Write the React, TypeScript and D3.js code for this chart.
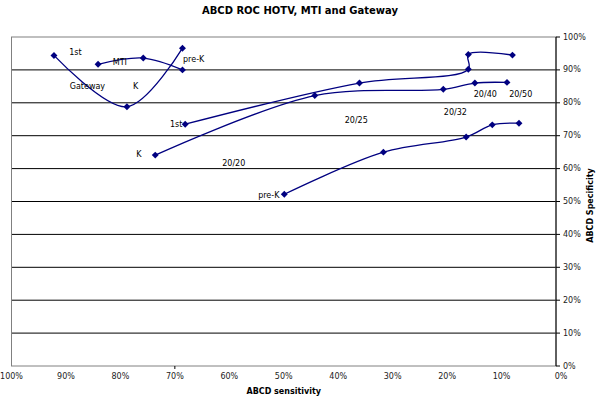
import React from "react";
import * as d3 from "d3";

// sensitivity (x, %) / specificity (y, %)
const gatewaySens = [92.2, 78.8, 68.6];
const gatewaySpec = [94.4, 78.8, 96.6];

const mtiSens = [84.1, 75.8, 68.6];
const mtiSpec = [91.7, 93.6, 90.0];

const hotv1stSens = [68.1, 36.1, 16.1, 16.1, 8.0];
const hotv1stSpec = [73.5, 86.0, 90.2, 94.7, 94.5];

const hotvKSens = [73.6, 44.3, 20.7, 14.9, 9.0];
const hotvKSpec = [64.1, 82.2, 84.1, 86.0, 86.2];

const hotvPreKSens = [49.9, 31.7, 16.5, 11.7, 6.8];
const hotvPreKSpec = [52.2, 65.0, 69.6, 73.3, 73.8];

const tickValues = [0, 10, 20, 30, 40, 50, 60, 70, 80, 90, 100];

// text annotations placed in data units (sens, spec)
const noteText = ["1st", "MTI", "pre-K", "Gateway", "K", "1st", "K", "20/20", "20/25", "20/32", "20/40", "20/50", "pre-K"];
const noteSens = [89.4, 81.4, 68.5, 89.3, 77.7, 70.9, 77.1, 61.3, 38.8, 20.6, 15.1, 8.6, 54.7];
const noteSpec = [95.4, 92.4, 93.3, 85.1, 85.1, 73.3, 64.4, 61.7, 74.5, 77.2, 82.4, 82.4, 51.7];

const W = 600;
const H = 398;
const plot = { left: 11.5, right: 556, top: 37, bottom: 366 };
const navy = "#000080";
const font = "'DejaVu Sans', Verdana, sans-serif";

const x = d3.scaleLinear().domain([100, 0]).range([plot.left, plot.right]);
const y = d3.scaleLinear().domain([0, 100]).range([plot.bottom, plot.top]);

const series = [
  { sens: gatewaySens, spec: gatewaySpec },
  { sens: mtiSens, spec: mtiSpec },
  { sens: hotv1stSens, spec: hotv1stSpec },
  { sens: hotvKSens, spec: hotvKSpec },
  { sens: hotvPreKSens, spec: hotvPreKSpec },
];

const line = d3
  .line<[number, number]>()
  .x(d => x(d[0]))
  .y(d => y(d[1]))
  .curve(d3.curveCatmullRom.alpha(0.5));

// square turned 45deg, like excel's diamond marker
const diamond = d3.symbol().type(d3.symbolSquare).size(24)();

export default function App() {
  return (
    <svg
      width={W}
      height={H}
      style={{ position: "absolute", left: 0, top: 0, background: "#fff" }}
      fontFamily={font}
    >
      <text x={W / 2} y={14} textAnchor="middle" fontSize={10} fontWeight="bold">
        ABCD ROC HOTV, MTI and Gateway
      </text>

      {/* gridlines */}
      {tickValues.filter(v => v > 0 && v < 100).map(v => (
        <line key={v} x1={plot.left} x2={plot.right} y1={y(v)} y2={y(v)} stroke="#000" strokeWidth={1} />
      ))}

      {/* plot border */}
      <rect
        x={plot.left}
        y={plot.top}
        width={plot.right - plot.left}
        height={plot.bottom - plot.top}
        fill="none"
        stroke="#808080"
        strokeWidth={1}
      />

      {/* right value axis */}
      <line x1={plot.right} x2={plot.right} y1={plot.top} y2={plot.bottom} stroke="#000" />
      {tickValues.map(v => (
        <g key={v}>
          <line x1={plot.right} x2={plot.right + 4} y1={y(v)} y2={y(v)} stroke="#000" />
          <text x={plot.right + 7} y={y(v)} dominantBaseline="middle" fontSize={8} fill="#222">
            {v}%
          </text>
        </g>
      ))}

      {/* bottom category axis */}
      <line x1={x(70)} x2={x(70)} y1={plot.bottom} y2={plot.bottom + 3} stroke="#000" />
      {tickValues.map(v => (
        <text
          key={v}
          x={x(v) + (v === 0 ? 5 : 0)}
          y={plot.bottom + 13}
          textAnchor="middle"
          fontSize={8}
          fill="#222"
        >
          {v}%
        </text>
      ))}
      <text x={(plot.left + plot.right) / 2} y={394} textAnchor="middle" fontSize={8} fontWeight="bold">
        ABCD sensitivity
      </text>
      <text
        transform={`translate(593, ${(plot.top + plot.bottom) / 2 + 4}) rotate(-90)`}
        textAnchor="middle"
        fontSize={8}
        fontWeight="bold"
      >
        ABCD Specificity
      </text>

      {/* series */}
      {series.map((s, i) => {
        const pts = s.sens.map((v, j) => [v, s.spec[j]] as [number, number]);
        return (
          <g key={i}>
            <path d={line(pts) || ""} fill="none" stroke={navy} strokeWidth={1.3} />
            {pts.map((p, j) => (
              <path
                key={j}
                d={diamond || ""}
                transform={`translate(${x(p[0])},${y(p[1])}) rotate(45)`}
                fill={navy}
              />
            ))}
          </g>
        );
      })}

      {/* annotations */}
      {noteText.map((t, i) => (
        <text key={i} x={x(noteSens[i])} y={y(noteSpec[i])} dominantBaseline="middle" fontSize={8} fill="#000">
          {t}
        </text>
      ))}
    </svg>
  );
}
